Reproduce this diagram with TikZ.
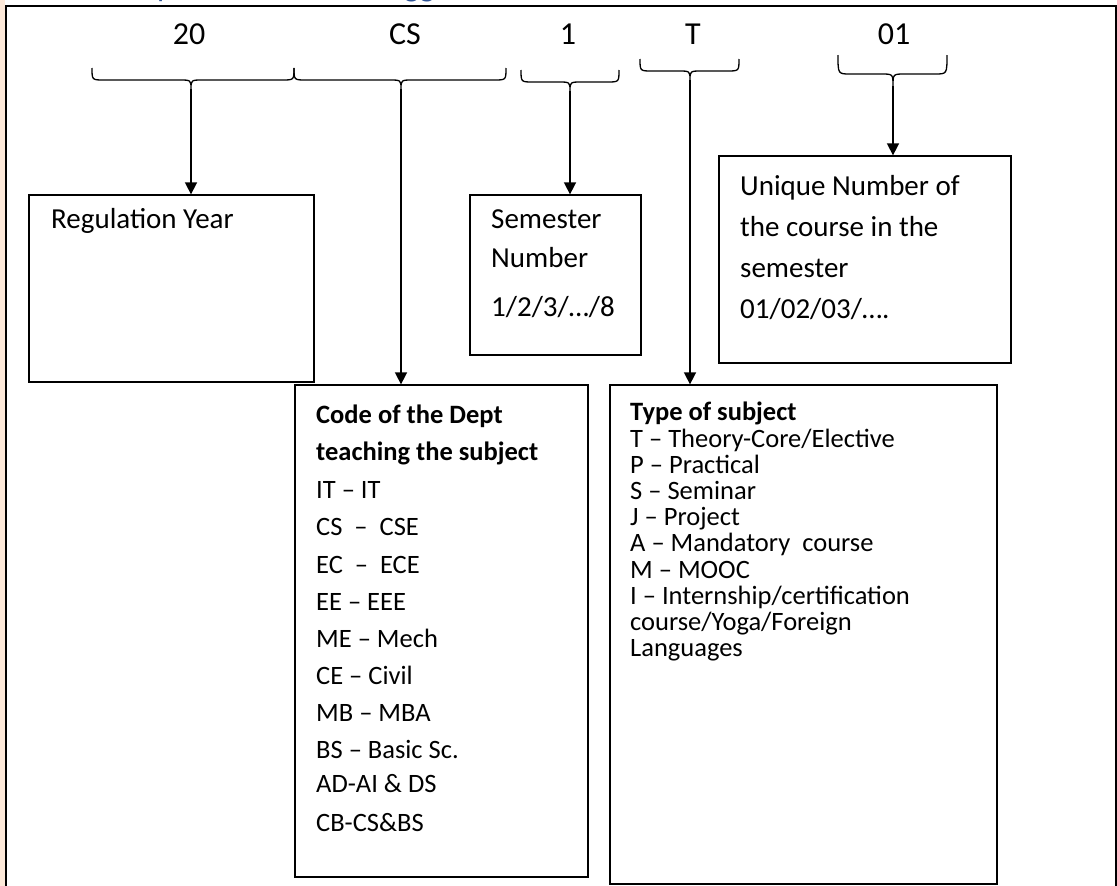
\documentclass[tikz,border=0pt]{standalone}
\usepackage{fontspec}
\setmainfont{Carlito}
\usetikzlibrary{arrows.meta,shadows}
\definecolor{peach}{HTML}{FDE9D9}
\definecolor{headblue}{HTML}{2F5496}
\begin{document}
\begin{tikzpicture}[x=1pt,y=-1pt,
  lab/.style={font=\fontsize{32}{38}\selectfont, anchor=base, inner sep=0},
  big/.style={font=\fontsize{29}{35}\selectfont, anchor=base west, inner sep=0},
  sm/.style={font=\fontsize{26.5}{32}\selectfont, anchor=base west, inner sep=0},
  smb/.style={sm, font=\fontsize{26.5}{32}\selectfont\bfseries},
  brace/.style={line width=1.3pt, line join=round},
  arr/.style={line width=1.6pt, -{Triangle[length=12pt,width=12pt]}},
  box/.style={draw, line width=1.3pt, fill=white, inner sep=0,
    drop shadow={shadow xshift=1.2pt, shadow yshift=-1.2pt, fill=black, opacity=0.9}},
  frame/.style={line width=2pt}]
\useasboundingbox (0,0) rectangle (1117,886);
% page frame
\fill[peach] (0,0) rectangle (5,886);
\draw[frame] (6,886) -- (6,5.5) -- (1115.5,5.5) -- (1115.5,886);
% cut-off heading (only descenders show in the reference)
\begin{scope}
\clip (0,0) rectangle (1117,5);
\node[font=\fontsize{32}{38}\selectfont, text=headblue, anchor=base west, inner sep=0] (hp) at (157,-3) {p};
\node[font=\fontsize{32}{38}\selectfont, text=headblue, anchor=base west, inner sep=0] (hg) at (404,-3) {gg};
\end{scope}
% labels
\node[lab] (l20) at (189,45) {20};
\node[lab] (lcs) at (405,45) {CS};
\node[lab] (l1) at (568,45) {1};
\node[lab] (lt) at (693,45) {T};
\node[lab] (l01) at (894,45) {01};
% braces
\draw[brace] (92,68) .. controls (92,80) .. (104,80) -- (179,80) .. controls (191,80) .. (191,89) .. controls (191,80) .. (203,80) -- (282,80) .. controls (294,80) .. (294,68);
\draw[brace] (294,68) .. controls (294,80) .. (306,80) -- (389,80) .. controls (401,80) .. (401,89) .. controls (401,80) .. (413,80) -- (494,80) .. controls (506,80) .. (506,68);
\draw[brace] (521,70) .. controls (521,82) .. (533,82) -- (558,82) .. controls (570,82) .. (570,91) .. controls (570,82) .. (582,82) -- (607,82) .. controls (619,82) .. (619,70);
\draw[brace] (640,59) .. controls (640,71) .. (652,71) -- (678,71) .. controls (690,71) .. (690,80) .. controls (690,71) .. (702,71) -- (727,71) .. controls (739,71) .. (739,59);
\draw[brace] (838,55) .. controls (838,74) .. (850,74) -- (881,74) .. controls (893,74) .. (893,86) .. controls (893,74) .. (905,74) -- (935,74) .. controls (947,74) .. (947,55);
\coordinate (t1) at (191,89);
\coordinate (t2) at (401,89);
\coordinate (t3) at (570,91);
\coordinate (t4) at (690,80);
\coordinate (t5) at (893,86);
% boxes
\node[box, minimum width=285pt, minimum height=187pt] (reg) at (171.5,288.5) {};
\node[box, minimum width=171pt, minimum height=160pt] (sem) at (555.5,275) {};
\node[box, minimum width=292pt, minimum height=207pt] (uni) at (865,259.5) {};
\node[box, minimum width=293pt, minimum height=492pt] (code) at (441.5,631) {};
\node[box, minimum width=387pt, minimum height=499pt] (type) at (803.5,634.5) {};
% arrows
\draw[arr] (t1) -- (t1 |- reg.north);
\draw[arr] (t2) -- (t2 |- code.north);
\draw[arr] (t3) -- (t3 |- sem.north);
\draw[arr] (t4) -- (t4 |- type.north);
\draw[arr] (t5) -- (t5 |- uni.north);
% texts
\node[big] (regt) at (51,228) {Regulation Year};
\node[big] (sem1) at (491,228) {Semester};
\node[big] (sem2) at (491,267) {Number};
\node[big] (sem3) at (491,316) {1/2/3/…/8};
\node[big] (uni1) at (740,195) {Unique Number of};
\node[big] (uni2) at (740,236) {the course in the};
\node[big] (uni3) at (740,277) {semester};
\node[big] (uni4) at (740,318) {01/02/03/….};
\node[smb] (c0) at (316,423) {Code of the Dept};
\node[smb] (c00) at (316,460) {teaching the subject};
\node[sm] (c1) at (316,498) {IT – IT};
\node[sm] (c2) at (316,535) {CS\ \ –\ \ CSE};
\node[sm] (c3) at (316,573) {EC\ \ –\ \ ECE};
\node[sm] (c4) at (316,610) {EE – EEE};
\node[sm] (c5) at (316,647) {ME – Mech};
\node[sm] (c6) at (316,684) {CE – Civil};
\node[sm] (c7) at (316,721) {MB – MBA};
\node[sm] (c8) at (316,758) {BS – Basic Sc.};
\node[sm] (c9) at (316,792) {AD-AI \& DS};
\node[sm] (c10) at (316,831) {CB-CS\&BS};
\node[smb] (y0) at (630,420) {Type of subject};
\node[sm] (y1) at (630,447) {T – Theory-Core/Elective};
\node[sm] (y2) at (630,473.2) {P – Practical};
\node[sm] (y3) at (630,499.4) {S – Seminar};
\node[sm] (y4) at (630,525.6) {J – Project};
\node[sm] (y5) at (630,551.8) {A – Mandatory\ \ course};
\node[sm] (y6) at (630,578) {M – MOOC};
\node[sm] (y7) at (630,604.2) {I – Internship/certification};
\node[sm] (y8) at (630,630.4) {course/Yoga/Foreign};
\node[sm] (y9) at (630,656.6) {Languages};
\end{tikzpicture}
\end{document}
